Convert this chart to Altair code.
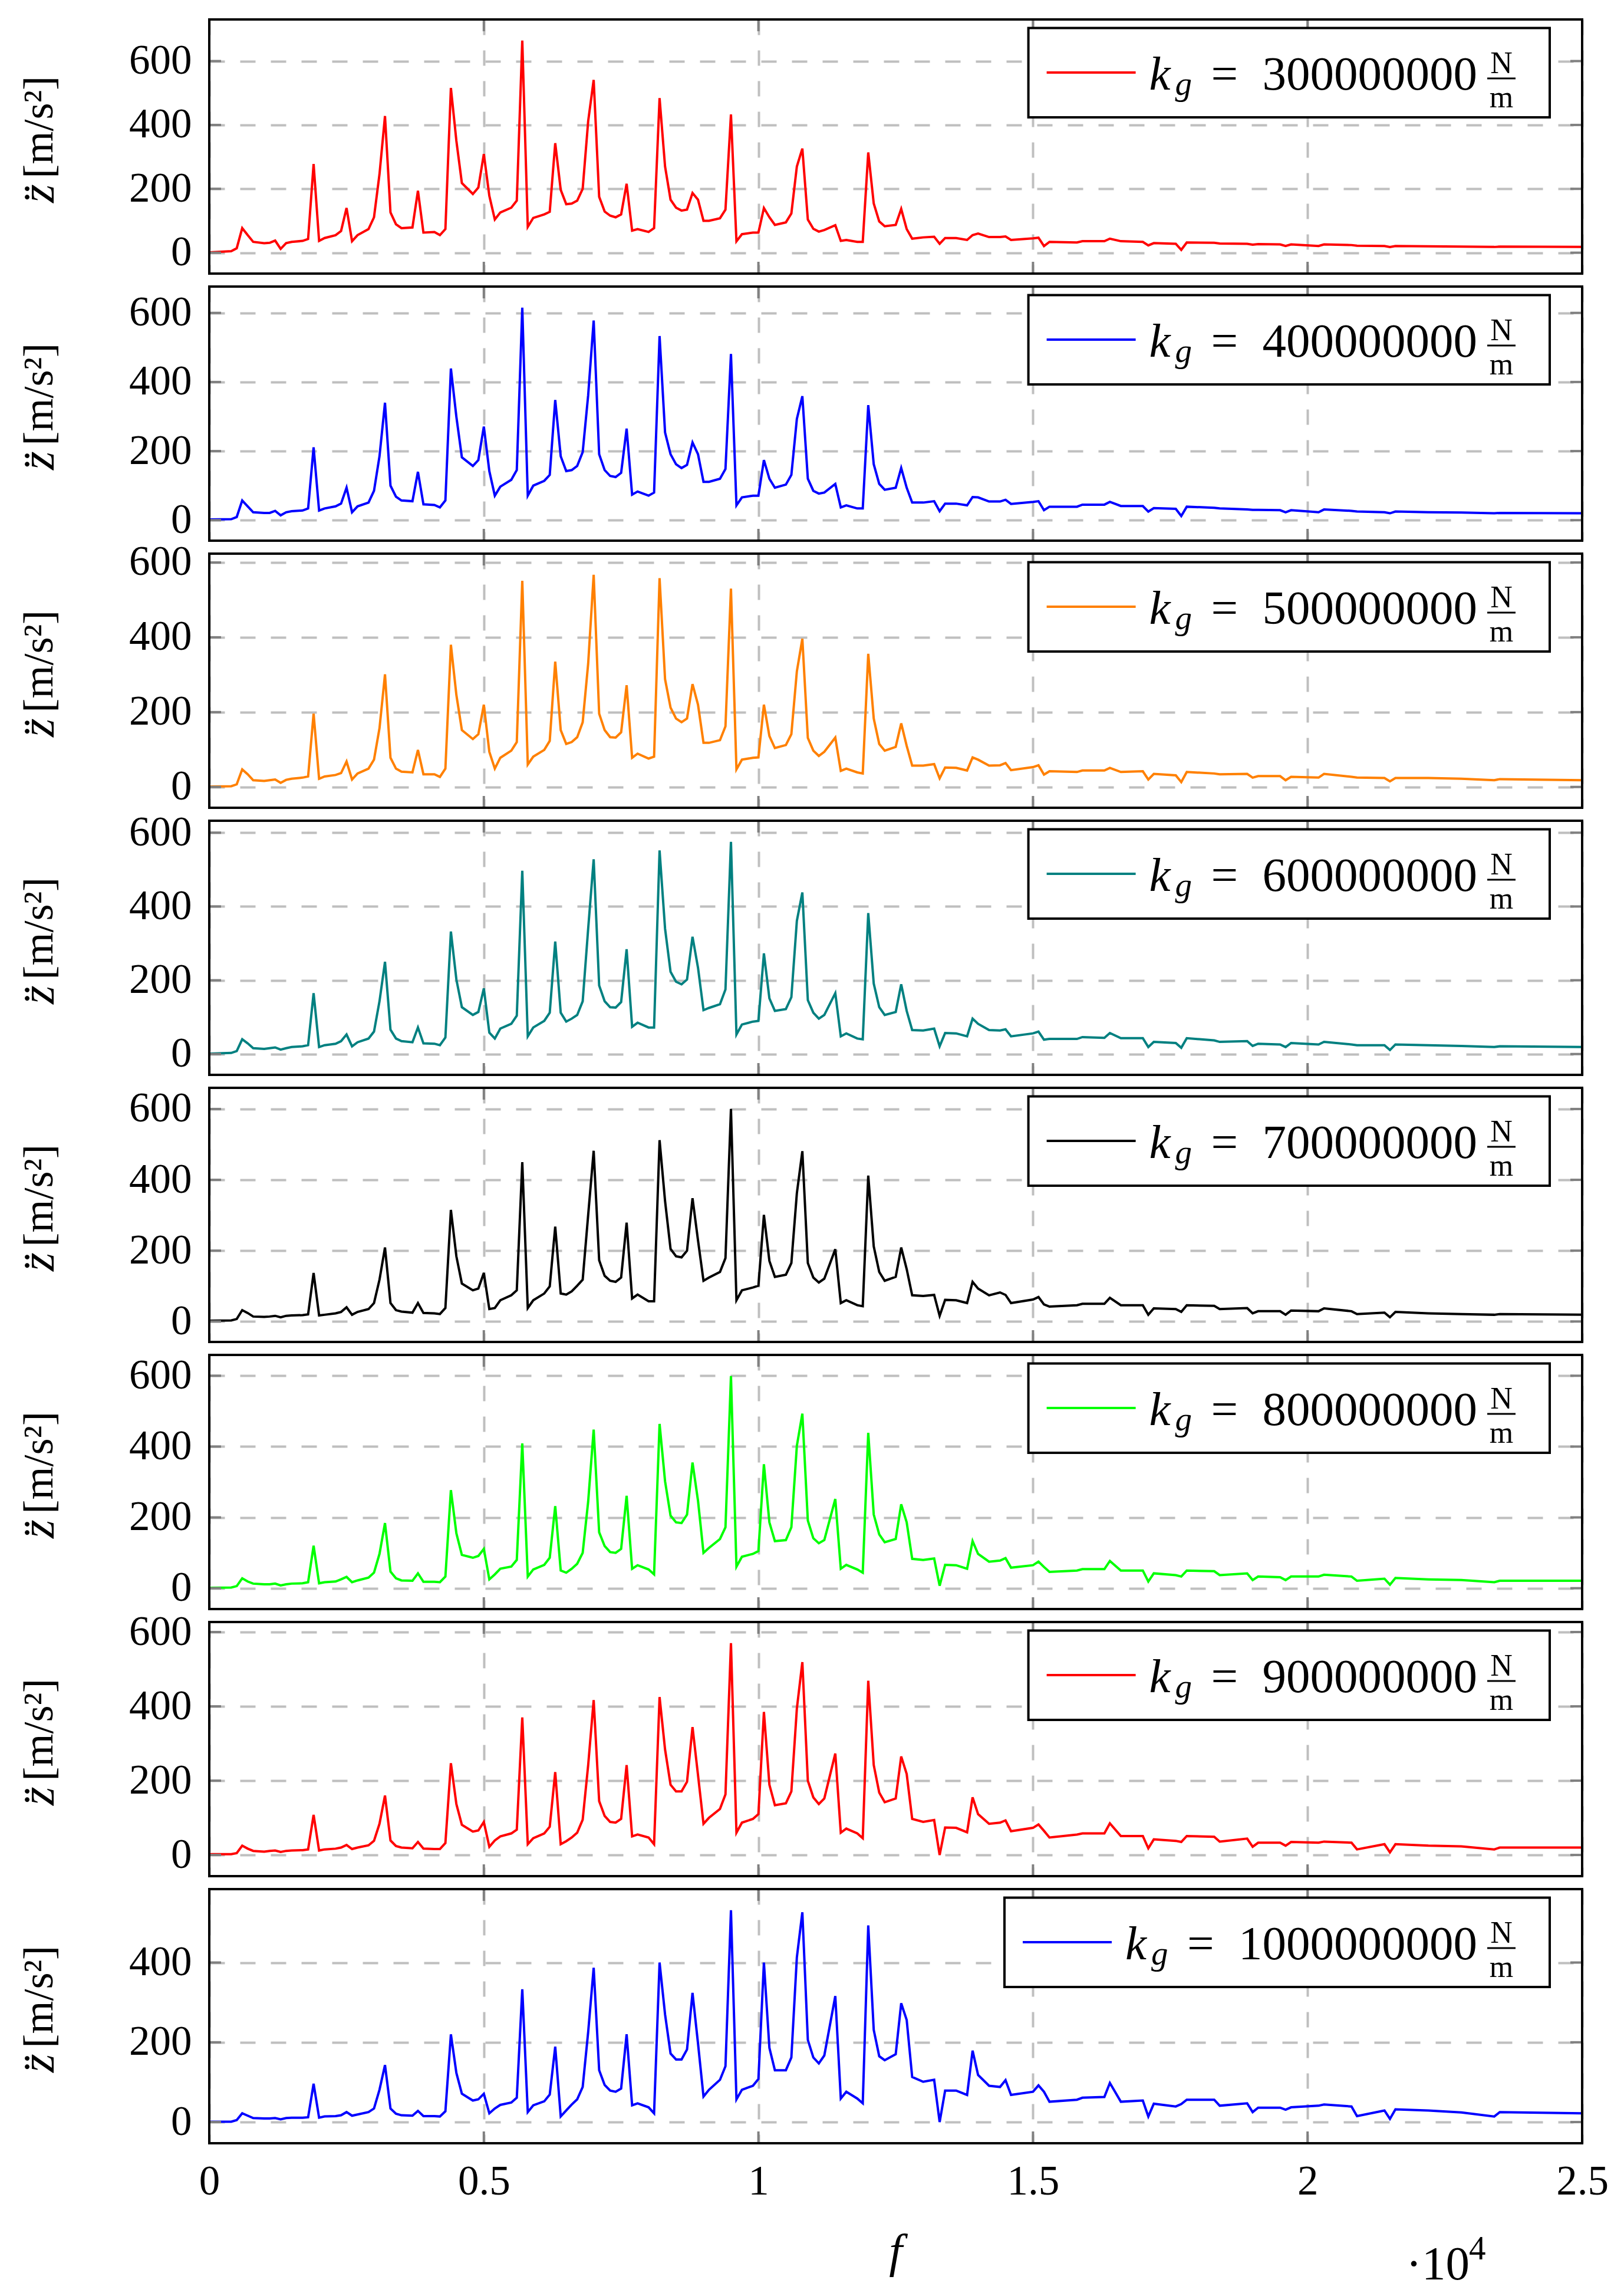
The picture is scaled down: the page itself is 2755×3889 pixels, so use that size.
import altair as alt
import pandas as pd

FONT = "Liberation Serif"
W, H = 2329, 431
GRID = "#bfbfbf"
TICK = "#808080"

# frequency grid (Hz)
f_main = [
    0, 400, 500, 600, 700, 800, 1000, 1100, 1200, 1300,
    1400, 1500, 1700, 1800, 1900, 2000, 2100, 2300, 2400, 2500,
    2600, 2700, 2900, 3000, 3100, 3200, 3300, 3400, 3500, 3700,
    3800, 3900, 4100, 4200, 4300, 4400, 4500, 4600, 4800, 4900,
    5000, 5100, 5200, 5300, 5500, 5600, 5700, 5800, 5900, 6100,
    6200, 6300, 6400, 6500, 6600, 6700, 6800, 6900, 7000, 7100,
    7200, 7300, 7400, 7500, 7600, 7700, 7800, 8000, 8100, 8200,
    8300, 8400, 8500, 8600, 8700, 8800, 8900, 9000, 9100, 9300,
    9400, 9500, 9600, 9700, 9900, 10000, 10100, 10200, 10300, 10500,
    10600, 10700, 10800, 10900, 11000, 11100, 11200, 11400, 11500, 11600,
    11800, 11900, 12000, 12100, 12200, 12300, 12500, 12600, 12700, 12800,
    13000, 13200, 13300, 13400, 13600, 13800, 13900, 14000, 14200, 14400,
]
f_tail = [
    14500, 14600, 15000, 15100, 15200, 15300, 15800, 15900, 16300, 16400,
    16600, 17000, 17100, 17200, 17600, 17700, 17800, 18300, 18400, 18900,
    19000, 19100, 19500, 19600, 19700, 20200, 20300, 20800, 20900, 21400,
    21500, 21600, 22200, 22800, 23400, 23500, 25000,
]
freq = f_main + f_tail

kg_values = ["300000000", "400000000", "500000000", "600000000",
             "700000000", "800000000", "900000000", "1000000000"]
colors = ["#ff0000", "#0000ff", "#ff8000", "#008080",
          "#000000", "#00ff00", "#ff0000", "#0000ff"]

z_kg3 = [
    1, 5, 14, 77, 55, 34, 30, 31, 38, 12,
    30, 34, 37, 43, 278, 37, 46, 55, 68, 140,
    36, 55, 74, 111, 246, 428, 126, 89, 77, 79,
    194, 63, 65, 55, 74, 516, 350, 218, 184, 204,
    309, 178, 104, 126, 141, 163, 664, 81, 109, 120,
    128, 343, 197, 152, 154, 163, 200, 412, 541, 175,
    129, 116, 111, 120, 216, 69, 74, 65, 77, 484,
    270, 166, 141, 132, 135, 187, 166, 100, 100, 108,
    135, 433, 36, 58, 63, 63, 140, 111, 87, 95,
    123, 270, 326, 104, 75, 66, 71, 86, 37, 40,
    34, 34, 314, 154, 98, 83, 87, 137, 74, 44,
    48, 50, 28, 46, 46, 40, 55, 60, 49, 49,
    51, 40, 45, 47, 21, 34, 32, 36, 36, 44,
    36, 34, 23, 30, 28, 9, 32, 31, 29, 28,
    25, 27, 26, 21, 26, 21, 26, 24, 22, 21,
    18, 21, 20, 19, 18, 19, 18,
]
z_kg4 = [
    2, 3, 9, 57, 40, 23, 21, 21, 27, 14,
    23, 26, 28, 34, 211, 28, 34, 40, 48, 94,
    23, 40, 51, 85, 185, 340, 100, 68, 57, 55,
    140, 46, 44, 37, 57, 439, 299, 182, 157, 174,
    271, 142, 71, 97, 117, 145, 615, 71, 100, 114,
    131, 348, 185, 142, 145, 157, 197, 362, 578, 191,
    145, 128, 125, 137, 265, 74, 83, 71, 80, 533,
    254, 191, 162, 151, 160, 225, 191, 111, 111, 120,
    148, 481, 43, 66, 71, 71, 174, 120, 94, 103,
    131, 293, 359, 120, 85, 77, 80, 105, 37, 43,
    34, 34, 333, 162, 105, 88, 94, 151, 94, 51,
    51, 55, 26, 48, 48, 43, 67, 66, 54, 54,
    59, 47, 53, 55, 29, 39, 39, 45, 45, 53,
    41, 41, 25, 35, 33, 12, 39, 36, 34, 31,
    30, 30, 29, 23, 29, 23, 31, 27, 25, 23,
    20, 25, 23, 22, 20, 21, 20,
]
z_kg5 = [
    1, 2, 7, 47, 34, 18, 16, 18, 20, 11,
    19, 22, 25, 28, 196, 22, 28, 32, 37, 68,
    20, 36, 49, 73, 157, 301, 78, 49, 41, 39,
    99, 34, 34, 27, 49, 380, 246, 152, 128, 141,
    220, 94, 49, 78, 97, 120, 551, 60, 81, 99,
    123, 335, 152, 115, 120, 133, 173, 330, 567, 196,
    152, 133, 132, 146, 272, 78, 89, 76, 81, 558,
    288, 212, 183, 173, 183, 275, 220, 118, 118, 125,
    162, 530, 47, 73, 78, 79, 220, 136, 104, 112,
    141, 309, 396, 131, 97, 83, 94, 132, 43, 49,
    39, 36, 356, 183, 115, 97, 107, 170, 110, 57,
    57, 61, 23, 52, 51, 44, 79, 73, 57, 58,
    64, 45, 53, 58, 33, 42, 40, 44, 44, 51,
    40, 42, 20, 35, 31, 13, 40, 36, 34, 35,
    25, 29, 29, 18, 27, 25, 35, 27, 25, 24,
    15, 24, 24, 22, 18, 21, 18,
]
z_kg6 = [
    1, 3, 8, 40, 29, 16, 14, 16, 18, 12,
    16, 19, 21, 24, 165, 19, 24, 28, 35, 53,
    21, 32, 42, 61, 143, 250, 66, 42, 35, 32,
    72, 29, 28, 24, 45, 332, 202, 127, 106, 114,
    178, 58, 42, 69, 82, 104, 497, 48, 72, 90,
    112, 305, 112, 88, 96, 106, 143, 340, 528, 186,
    143, 127, 126, 141, 284, 74, 85, 72, 72, 552,
    340, 223, 196, 189, 202, 318, 234, 119, 125, 135,
    175, 575, 53, 80, 88, 90, 273, 151, 117, 122,
    154, 361, 438, 146, 112, 96, 106, 165, 48, 56,
    42, 40, 382, 191, 127, 106, 114, 189, 117, 65,
    64, 69, 21, 57, 56, 48, 96, 82, 65, 64,
    67, 48, 56, 61, 39, 41, 41, 46, 44, 57,
    43, 43, 19, 33, 30, 17, 43, 37, 33, 35,
    22, 28, 26, 19, 30, 26, 33, 26, 24, 24,
    11, 26, 24, 22, 19, 21, 19,
]
z_kg7 = [
    2, 3, 7, 32, 24, 14, 13, 14, 16, 12,
    16, 17, 18, 20, 137, 17, 19, 23, 27, 40,
    19, 27, 35, 52, 118, 209, 52, 32, 28, 25,
    52, 24, 23, 21, 38, 315, 184, 107, 88, 93,
    137, 35, 38, 60, 74, 88, 450, 38, 60, 79,
    99, 268, 79, 76, 85, 101, 118, 301, 482, 173,
    129, 115, 112, 124, 279, 65, 76, 57, 57, 512,
    340, 205, 184, 181, 200, 348, 229, 115, 124, 140,
    179, 600, 60, 88, 96, 101, 301, 171, 126, 132,
    165, 362, 481, 165, 124, 110, 121, 204, 52, 60,
    46, 43, 412, 212, 140, 115, 126, 209, 148, 74,
    72, 75, 16, 61, 60, 52, 112, 93, 74, 82,
    75, 52, 62, 69, 48, 42, 46, 50, 50, 67,
    46, 46, 19, 37, 35, 27, 46, 44, 35, 38,
    23, 29, 29, 19, 31, 29, 37, 29, 21, 25,
    12, 27, 23, 21, 19, 21, 19,
]
z_kg8 = [
    1, 2, 6, 28, 19, 13, 11, 11, 13, 8,
    11, 13, 14, 17, 120, 14, 17, 19, 25, 32,
    17, 22, 30, 44, 97, 184, 47, 28, 22, 21,
    42, 18, 18, 17, 33, 277, 155, 94, 86, 91,
    111, 25, 39, 55, 61, 80, 409, 33, 53, 66,
    86, 232, 50, 44, 55, 69, 100, 245, 448, 158,
    119, 102, 100, 111, 261, 55, 65, 53, 39, 464,
    302, 205, 186, 184, 208, 355, 247, 100, 114, 139,
    172, 599, 61, 89, 97, 105, 350, 186, 133, 136,
    172, 402, 493, 191, 141, 127, 136, 252, 55, 66,
    53, 44, 439, 208, 152, 130, 139, 237, 186, 83,
    80, 84, 7, 66, 65, 55, 133, 97, 75, 78,
    85, 58, 65, 75, 60, 46, 50, 54, 54, 77,
    50, 50, 19, 42, 37, 33, 50, 48, 37, 42,
    23, 33, 31, 23, 33, 33, 38, 33, 21, 27,
    10, 29, 25, 23, 17, 21, 21,
]
z_kg9 = [
    2, 2, 5, 25, 17, 11, 9, 11, 12, 8,
    11, 12, 13, 15, 108, 12, 15, 17, 20, 27,
    16, 20, 26, 38, 84, 160, 39, 24, 20, 18,
    35, 17, 16, 16, 32, 247, 137, 81, 63, 66,
    89, 22, 39, 50, 58, 68, 370, 29, 45, 58,
    76, 223, 29, 37, 47, 60, 95, 242, 417, 145,
    105, 89, 87, 97, 242, 50, 55, 47, 29, 425,
    284, 189, 171, 171, 197, 344, 215, 84, 100, 124,
    163, 570, 60, 87, 97, 110, 385, 189, 134, 139,
    171, 394, 519, 200, 155, 137, 152, 273, 60, 71,
    58, 45, 469, 242, 168, 142, 152, 265, 218, 97,
    89, 94, 0, 74, 73, 61, 155, 110, 84, 87,
    93, 64, 73, 82, 65, 47, 55, 58, 58, 85,
    51, 51, 18, 42, 38, 35, 51, 49, 36, 44,
    22, 33, 33, 25, 35, 33, 36, 33, 15, 29,
    7, 29, 25, 23, 15, 20, 20,
]
z_kg10 = [
    1, 1, 5, 22, 16, 10, 9, 9, 10, 7,
    10, 11, 11, 12, 96, 11, 14, 15, 17, 25,
    16, 19, 25, 34, 81, 143, 34, 21, 17, 16,
    28, 15, 15, 14, 27, 220, 123, 71, 54, 57,
    71, 22, 34, 43, 49, 61, 333, 25, 42, 52,
    69, 189, 14, 29, 44, 57, 88, 226, 387, 130,
    93, 79, 76, 84, 220, 42, 47, 37, 22, 400,
    270, 172, 157, 157, 182, 324, 197, 64, 81, 106,
    140, 531, 57, 81, 91, 108, 400, 186, 130, 130,
    162, 413, 526, 206, 162, 147, 167, 316, 59, 76,
    59, 47, 493, 231, 165, 155, 170, 298, 256, 113,
    101, 106, 0, 79, 79, 68, 179, 118, 91, 88,
    105, 68, 76, 92, 76, 51, 56, 61, 63, 98,
    51, 54, 14, 46, 39, 45, 56, 56, 41, 47,
    25, 36, 36, 31, 37, 41, 44, 39, 15, 29,
    8, 32, 29, 24, 14, 25, 22,
]
series = [z_kg3, z_kg4, z_kg5, z_kg6, z_kg7, z_kg8, z_kg9, z_kg10]

x_ticks = [0, 5000, 10000, 15000, 20000, 25000]
y_ticks = [0, 200, 400, 600]

one = pd.DataFrame({"o": [0]})


def txt(s, x, y, size, align="left", style="normal", angle=0, baseline="alphabetic"):
    return alt.Chart(one).mark_text(
        text=s, font=FONT, fontSize=size, align=align, baseline=baseline,
        fontStyle=style, angle=angle, color="black",
    ).encode(x=alt.value(x), y=alt.value(y))


def panel(z, color, kg, last):
    lo, hi = min(z), max(z)
    ydom = [lo - 0.1 * (hi - lo), hi + 0.1 * (hi - lo)]
    xs = alt.Scale(domain=[0, 25000], nice=False, zero=False)
    ys = alt.Scale(domain=ydom, nice=False, zero=False)
    yvals = [v for v in y_ticks if v <= ydom[1]]

    x_axis = alt.Axis(
        values=x_ticks, grid=True, ticks=False, domain=False, labels=last,
        title=None, labelExpr="datum.value / 10000", labelFlush=False,
        labelPadding=30,
    )
    y_axis = alt.Axis(
        values=yvals, grid=True, ticks=False, domain=False, title=None,
        labelPadding=30,
    )
    curve = alt.Chart(pd.DataFrame({"f": freq, "z": z})).mark_line(
        color=color, strokeWidth=4
    ).encode(
        x=alt.X("f:Q", scale=xs, axis=x_axis),
        y=alt.Y("z:Q", scale=ys, axis=y_axis),
    )

    # short inward ticks on all four sides (same axis spec, so axes merge)
    ydf = pd.DataFrame({"v": yvals})
    xdf = pd.DataFrame({"v": x_ticks[1:-1]})
    ticks = [
        alt.Chart(ydf).mark_rule(color=TICK, strokeWidth=4).encode(
            y=alt.Y("v:Q", scale=ys, axis=y_axis), x=alt.value(0), x2=alt.value(20)),
        alt.Chart(ydf).mark_rule(color=TICK, strokeWidth=4).encode(
            y=alt.Y("v:Q", scale=ys, axis=y_axis), x=alt.value(W - 20), x2=alt.value(W)),
        alt.Chart(xdf).mark_rule(color=TICK, strokeWidth=4).encode(
            x=alt.X("v:Q", scale=xs, axis=x_axis), y=alt.value(0), y2=alt.value(20)),
        alt.Chart(xdf).mark_rule(color=TICK, strokeWidth=4).encode(
            x=alt.X("v:Q", scale=xs, axis=x_axis), y=alt.value(H - 20), y2=alt.value(H)),
    ]

    # legend box: k_g = ... N/m
    ds = 2151 - 40.6 * len(kg)
    legend = [
        alt.Chart(one).mark_rect(fill="white", stroke="black", strokeWidth=4).encode(
            x=alt.value(ds - 396), x2=alt.value(2274), y=alt.value(14.5), y2=alt.value(166)),
        alt.Chart(one).mark_rule(color=color, strokeWidth=4).encode(
            x=alt.value(ds - 365), x2=alt.value(ds - 214), y=alt.value(90)),
        txt("k", ds - 191, 119, 81, style="italic"),
        txt("g", ds - 147, 128, 57, style="italic"),
        txt("=", ds - 86, 119, 81),
        txt(kg, 2151, 119, 81, align="right"),
        txt("N", 2192, 91, 52, align="center"),
        alt.Chart(one).mark_rule(color="black", strokeWidth=3).encode(
            x=alt.value(2168), x2=alt.value(2216), y=alt.value(100)),
        txt("m", 2192, 149, 52, align="center"),
    ]

    ytitle = [
        txt("z\u0308", -288, H / 2 + 64, 81, align="right", style="italic",
            angle=270, baseline="middle"),
        txt("[m/s\u00b2]", -288, H / 2 + 54, 72, align="left", angle=270,
            baseline="middle"),
    ]

    border = alt.Chart(one).mark_rect(filled=False, color="black", strokeWidth=4).encode(
        x=alt.value(0), x2=alt.value(W), y=alt.value(0), y2=alt.value(H))

    layers = [curve] + ticks + legend + ytitle + [border]
    if last:
        layers += [
            txt("f", W / 2, 641, 81, align="center", style="italic"),
            txt("\u00b710", 2030, 662, 81),
            txt("4", 2137, 628, 57),
        ]
    return alt.layer(*layers).properties(width=W, height=H)


panels = [
    panel(z, c, kg, i == len(series) - 1)
    for i, (z, c, kg) in enumerate(zip(series, colors, kg_values))
]

chart = (
    alt.vconcat(*panels, spacing=22, bounds="flush")
    .properties(padding={"left": 16, "top": 21, "right": 0, "bottom": 0})
    .configure_view(stroke="black", strokeWidth=4)
    .configure_axis(
        labelFont=FONT, labelFontSize=71, labelColor="black",
        gridColor=GRID, gridDash=[26, 26], gridWidth=4,
    )
)

chart.save("out.html", embed_options={"renderer": "svg", "actions": False})
